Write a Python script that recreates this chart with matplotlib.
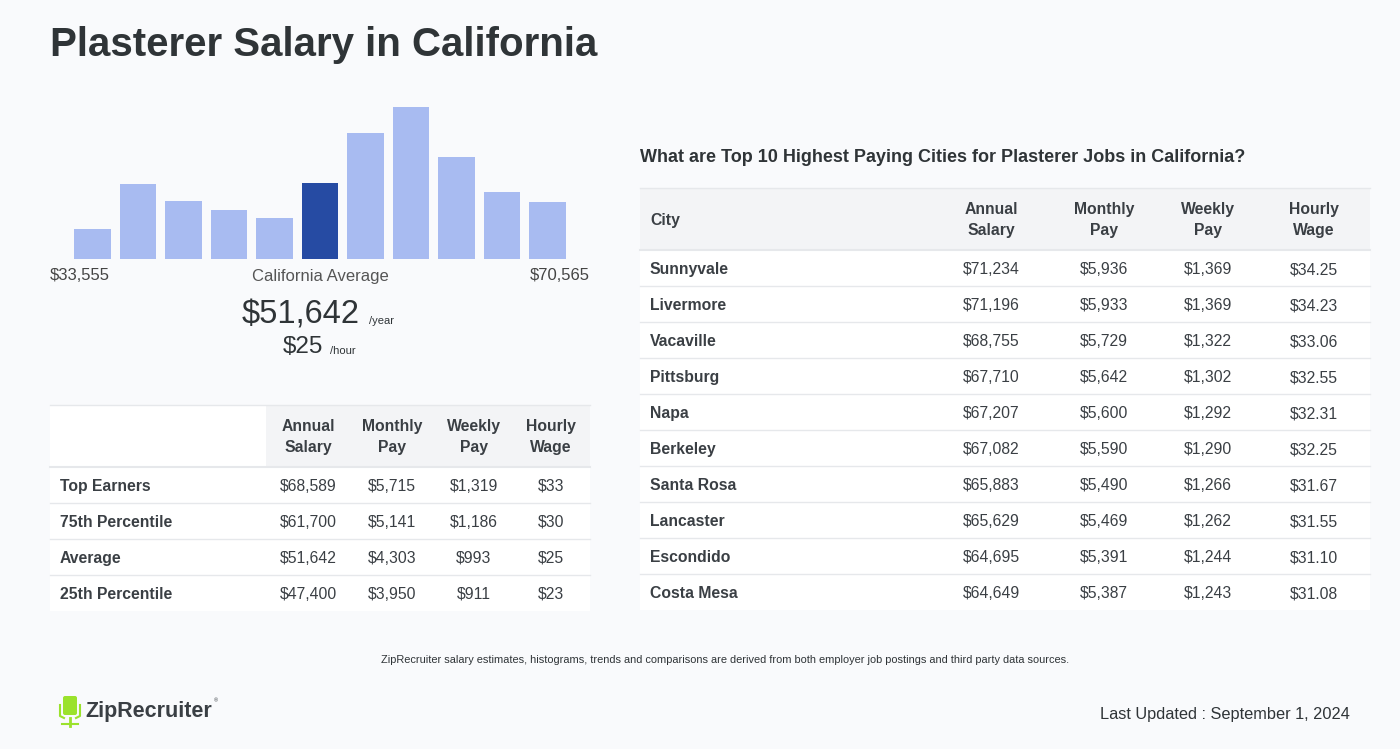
import matplotlib.pyplot as plt
from matplotlib.patches import Rectangle, FancyBboxPatch

plt.rcParams['font.family'] = ['Liberation Sans', 'DejaVu Sans']

# histogram bar heights (relative)
hist_heights = [30, 75, 58, 49, 41, 76, 126, 152, 102, 67, 57]
avg_bin = 5
low_label = "$33,555"
high_label = "$70,565"
avg_year = "$51,642"
avg_hour = "$25"

pct_rows = ["Top Earners", "75th Percentile", "Average", "25th Percentile"]
pct_annual = ["$68,589", "$61,700", "$51,642", "$47,400"]
pct_monthly = ["$5,715", "$5,141", "$4,303", "$3,950"]
pct_weekly = ["$1,319", "$1,186", "$993", "$911"]
pct_hourly = ["$33", "$30", "$25", "$23"]

cities = ["Sunnyvale", "Livermore", "Vacaville", "Pittsburg", "Napa",
          "Berkeley", "Santa Rosa", "Lancaster", "Escondido", "Costa Mesa"]
city_annual = ["$71,234", "$71,196", "$68,755", "$67,710", "$67,207",
               "$67,082", "$65,883", "$65,629", "$64,695", "$64,649"]
city_monthly = ["$5,936", "$5,933", "$5,729", "$5,642", "$5,600",
                "$5,590", "$5,490", "$5,469", "$5,391", "$5,387"]
city_weekly = ["$1,369", "$1,369", "$1,322", "$1,302", "$1,292",
               "$1,290", "$1,266", "$1,262", "$1,244", "$1,243"]
city_hourly = ["$34.25", "$34.23", "$33.06", "$32.55", "$32.31",
               "$32.25", "$31.67", "$31.55", "$31.10", "$31.08"]

col_heads = ["Annual\nSalary", "Monthly\nPay", "Weekly\nPay", "Hourly\nWage"]

BG = "#f9fafc"
DARK = "#2f3437"
TXT = "#3a3f44"
LINE = "#e6e8eb"
HEAD_BG = "#f3f4f6"

W, H = 1400, 749
fig = plt.figure(figsize=(W / 100, H / 100), dpi=100, facecolor=BG)
ov = fig.add_axes([0, 0, 1, 1])
ov.set_xlim(0, W)
ov.set_ylim(H, 0)
ov.axis("off")

ov.text(50, 45, "Plasterer Salary in California", fontsize=29, fontweight="bold",
        color=DARK, va="center", ha="left")

# histogram
hx = fig.add_axes([50 / W, (H - 259) / H, 540 / W, 152 / H])
hx.set_facecolor("none")
colors = ["#264ba3" if i == avg_bin else "#a8bbf1" for i in range(len(hist_heights))]
hx.bar(range(len(hist_heights)), hist_heights, width=0.81, color=colors)
hx.set_xlim(-42.5 / 45.5, (540 - 42.5) / 45.5)
hx.set_ylim(0, max(hist_heights))
hx.axis("off")

ov.text(50, 276, low_label, fontsize=12, color="#444", ha="left", va="center")
ov.text(320, 276, "California Average", fontsize=12, color="#555", ha="center", va="center")
ov.text(590, 276, high_label, fontsize=12, color="#444", ha="right", va="center")
ov.text(360, 315, avg_year, fontsize=23.5, color=DARK, ha="right", va="center")
ov.text(369, 321, "/year", fontsize=8, color=DARK, ha="left", va="center")
ov.text(323, 347, avg_hour, fontsize=17.5, color=DARK, ha="right", va="center")
ov.text(330, 351, "/hour", fontsize=8, color=DARK, ha="left", va="center")


def draw_table(x0, x1, y0, head_h, row_h, first_col_x, col_x, first_head, labels, cols, head_bg_x):
    n = len(labels)
    ybot = y0 + head_h + n * row_h
    ov.add_patch(Rectangle((x0, y0), x1 - x0, ybot - y0, facecolor="white", edgecolor="none", zorder=0))
    ov.add_patch(Rectangle((head_bg_x, y0), x1 - head_bg_x, head_h, facecolor=HEAD_BG,
                           edgecolor="none", zorder=0.5))
    ov.plot([x0, x1], [y0, y0], color=LINE, lw=1)
    ov.plot([x0, x1], [y0 + head_h, y0 + head_h], color=LINE, lw=1.5)
    if first_head:
        ov.text(first_col_x, y0 + head_h / 2 + 1, first_head, fontsize=11.3, fontweight="bold",
                color=TXT, ha="left", va="center")
    for cx, h in zip(col_x, col_heads):
        ov.text(cx, y0 + head_h / 2 + 1, h, fontsize=11.3, fontweight="bold", color=TXT,
                ha="center", va="center", linespacing=1.45)
    for r, lab in enumerate(labels):
        yb = y0 + head_h + r * row_h + 24
        ov.text(first_col_x, yb, lab, fontsize=11.3, fontweight="bold", color=TXT,
                ha="left", va="baseline")
        for cx, col in zip(col_x, cols):
            ov.text(cx, yb, col[r], fontsize=11.3, color=TXT, ha="center", va="baseline")
        if r < n - 1:
            yl = y0 + head_h + (r + 1) * row_h
            ov.plot([x0, x1], [yl, yl], color=LINE, lw=1)


draw_table(50, 590, 405, 62, 36, 60, [308, 392, 474, 551], None, pct_rows,
           [pct_annual, pct_monthly, pct_weekly, pct_hourly], 266)

ov.text(640, 158, "What are Top 10 Highest Paying Cities for Plasterer Jobs in California?",
        fontsize=13, fontweight="bold", color=DARK, ha="left", va="center")
draw_table(640, 1370, 188, 62, 36, 650, [991, 1104, 1208, 1314], "City", cities,
           [city_annual, city_monthly, city_weekly, city_hourly], 640)

ov.text(725, 660, "ZipRecruiter salary estimates, histograms, trends and comparisons are derived "
        "from both employer job postings and third party data sources.",
        fontsize=7.9, color=DARK, ha="center", va="center")
ov.text(1350, 715, "Last Updated : September 1, 2024", fontsize=11.8, color=DARK,
        ha="right", va="center")

# logo
green = "#9be22c"
ov.add_patch(FancyBboxPatch((63, 696), 14, 19, boxstyle="round,pad=0,rounding_size=2",
                            facecolor=green, edgecolor="none"))
ov.plot([60, 60, 64], [705, 716, 718], color=green, lw=1.5)
ov.plot([80, 80, 76], [705, 716, 718], color=green, lw=1.5)
ov.plot([70, 70], [718, 726], color=green, lw=2)
ov.plot([62, 78], [724, 724], color=green, lw=1.5)
ov.text(85, 712, "ZipRecruiter", fontsize=15.5, fontweight="bold", color="#3a3f44",
        ha="left", va="center")
ov.text(214, 701, "®", fontsize=4, color="#3a3f44", ha="left", va="center")

fig.savefig("out.png", dpi=100, facecolor=BG)
